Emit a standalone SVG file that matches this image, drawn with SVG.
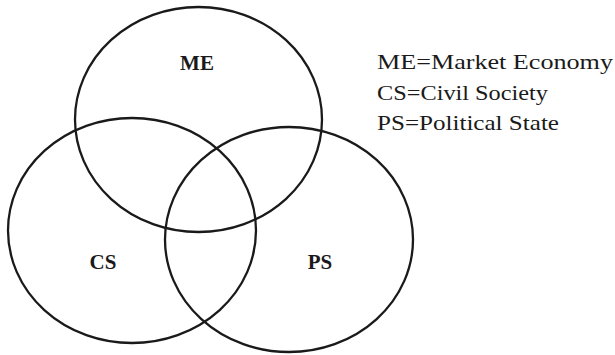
<svg xmlns="http://www.w3.org/2000/svg" width="615" height="355" viewBox="0 0 615 355">
<style>
.c{fill:none;stroke:#1a1a1a;stroke-width:2.3}
.lb{font-family:"Liberation Serif","Times New Roman",serif;font-weight:bold;font-size:21px;fill:#1a1a1a;text-anchor:middle}
.lg{font-family:"Liberation Serif","Times New Roman",serif;font-size:22px;fill:#1a1a1a}
</style>
<rect width="615" height="355" fill="#ffffff"/>
<g id="ME">
<ellipse class="c" cx="198.5" cy="119.5" rx="123.5" ry="112.5"/>
<text class="lb" x="197" y="70">ME</text>
</g>
<g id="CS">
<ellipse class="c" cx="132" cy="230.5" rx="124" ry="112.5"/>
<text class="lb" x="103" y="269">CS</text>
</g>
<g id="PS">
<ellipse class="c" cx="289" cy="239.5" rx="124" ry="112.5"/>
<text class="lb" x="320" y="269">PS</text>
</g>
<g id="legend">
<text class="lg" x="377" y="69" textLength="236" lengthAdjust="spacingAndGlyphs">ME=Market Economy</text>
<text class="lg" x="377" y="100" textLength="171" lengthAdjust="spacingAndGlyphs">CS=Civil Society</text>
<text class="lg" x="377" y="130" textLength="182" lengthAdjust="spacingAndGlyphs">PS=Political State</text>
</g>
<g id="connectors"></g>
</svg>
